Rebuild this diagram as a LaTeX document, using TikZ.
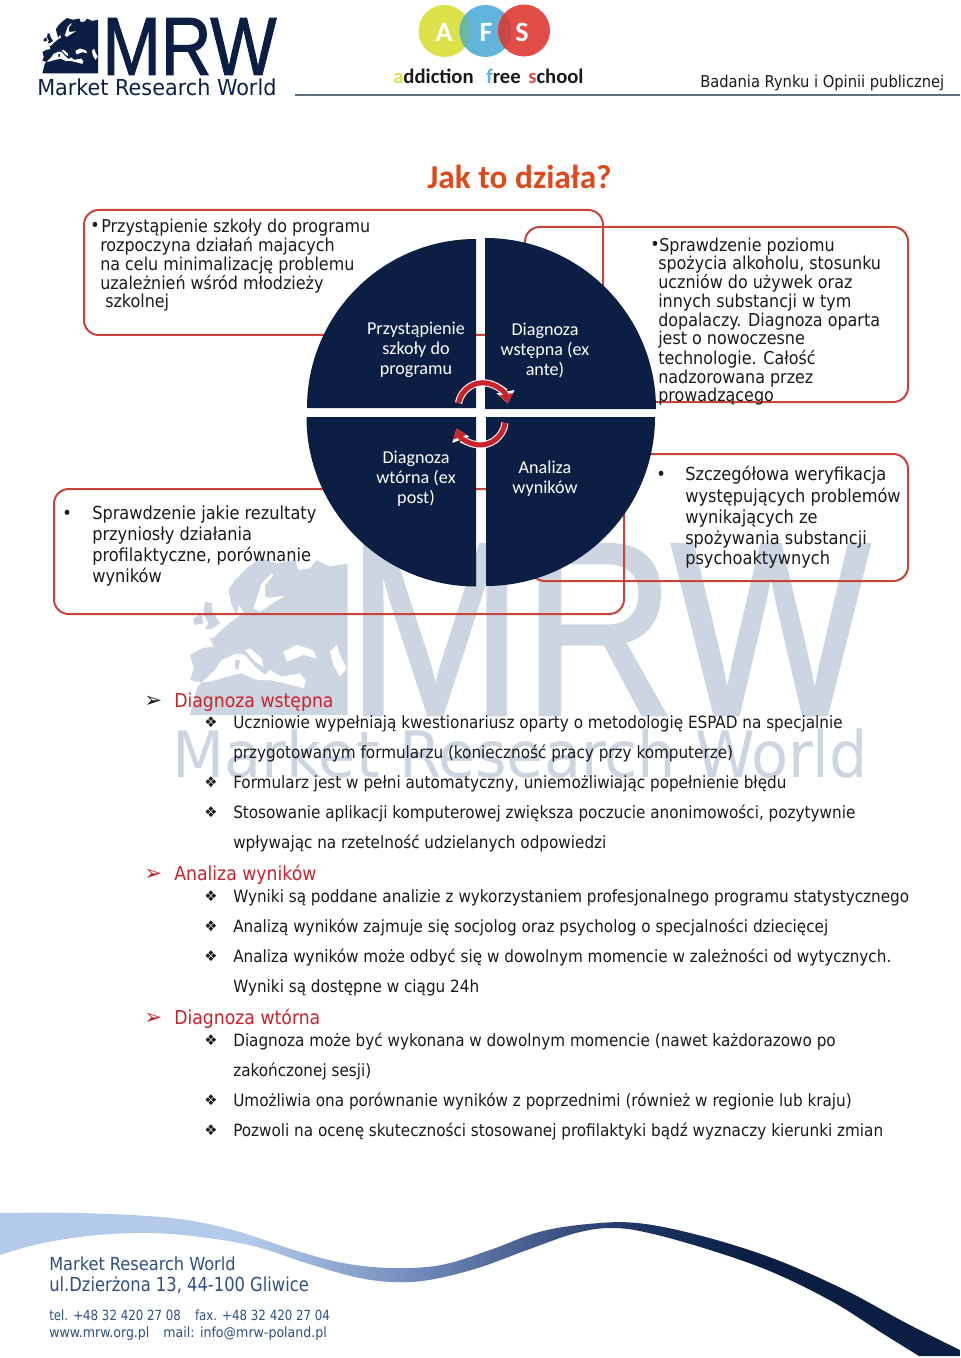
\documentclass[tikz,border=0pt]{standalone}
\usepackage{fontspec}
\setmainfont{DejaVu Sans Condensed}
\newfontfamily\labfont{Carlito}
\newfontfamily\symfont{DejaVu Sans}
\newfontfamily\logofont[FakeStretch=.85,FakeBold=1.2]{Liberation Sans}
\newfontfamily\narrowfont[FakeStretch=.94]{DejaVu Sans Condensed}
\newfontfamily\widefont[FakeStretch=1.05]{DejaVu Sans Condensed}
\usepackage{tikz}
\usetikzlibrary{arrows.meta,positioning,calc}
\definecolor{mrwNavy}{HTML}{0B1F45}
\definecolor{mrwMark}{HTML}{CDD4E2}
\definecolor{mrwBox}{HTML}{C8433A}
\definecolor{mrwRed}{HTML}{C9232B}
\definecolor{mrwInk}{HTML}{1A1A1A}
\definecolor{mrwFoot}{HTML}{2F4F80}
\definecolor{mrwRule}{HTML}{5F7080}
\definecolor{afsYellow}{HTML}{DDE24A}
\definecolor{afsBlue}{HTML}{62B4DC}
\definecolor{afsRed}{HTML}{E24E47}
\definecolor{afsTeal}{HTML}{6CB6A4}
\definecolor{afsDeep}{HTML}{C94744}
\definecolor{mrwBand}{HTML}{B3CAEA}
\definecolor{mrwMid}{HTML}{6F88B8}
\definecolor{mrwDeep}{HTML}{1F3666}
\pgfdeclarehorizontalshading{swooshfill}{100bp}{color(0bp)=(mrwBand);color(25bp)=(mrwBand);color(38bp)=(mrwBand);color(47bp)=(mrwMid);color(58bp)=(mrwDeep);color(64bp)=(mrwNavy);color(100bp)=(mrwNavy)}
% europe outline, drawn at both scales
\newcommand{\mapshape}[1]{%
  \fill[#1] (533,25) -- (480,35) -- (440,15) -- (420,40) -- (385,45) -- (375,15) -- (320,25) -- (270,10) -- (230,40) -- (195,75) -- (175,105) -- (185,150) -- (198,178) -- (208,150) -- (222,175) -- (190,195) -- (160,220) -- (130,250) -- (120,248) -- (130,275) -- (95,280) -- (60,300) -- (72,340) -- (60,375) -- (95,382) -- (80,400) -- (60,480) -- (533,480) -- cycle;
  \fill[#1] (105,140) -- (125,145) -- (128,170) -- (150,205) -- (125,222) -- (105,222) -- (115,205) -- (108,190) -- (100,175) -- cycle;
  \fill[#1] (70,190) -- (95,175) -- (100,205) -- (72,210) -- cycle;
  \fill[white] (305,55) -- (275,85) -- (262,125) -- (250,160) -- (270,170) -- (300,150) -- (345,122) -- (300,128) -- (285,125) -- (285,90) -- (310,60) -- cycle;
  \fill[white] (95,382) -- (135,345) -- (155,315) -- (200,295) -- (225,300) -- (255,335) -- (285,360) -- (300,345) -- (335,365) -- (390,355) -- (408,378) -- (400,400) -- (345,385) -- (300,375) -- (260,375) -- (215,355) -- (170,365) -- (120,380) -- cycle;
  \fill[#1] (195,315) -- (210,315) -- (205,345) -- (195,340) -- cycle;
  \fill[white] (225,285) -- (240,280) -- (275,310) -- (280,335) -- (255,320) -- cycle;
  \fill[white] (340,290) -- (380,270) -- (430,285) -- (440,310) -- (400,300) -- (350,320) -- cycle;
  \fill[white] (480,290) -- (500,270) -- (510,300) -- (530,340) -- (510,365) -- (490,330) -- cycle;
}
\begin{document}
\begin{tikzpicture}[
  x=.75pt,y=-.75pt,
  box/.style={draw=mrwBox,line width=1.5pt,rounded corners=11pt},
  quad/.style={fill=mrwNavy,draw=none},
  boxtxt/.style={anchor=base west,font=\fontsize{13.3}{16}\selectfont,color=mrwInk,inner sep=0pt},
  boxwide/.style={anchor=base west,font=\fontsize{13.5}{16}\selectfont,color=mrwInk,inner sep=0pt},
  listtxt/.style={anchor=base west,font=\fontsize{12.7}{16}\selectfont,color=mrwInk,inner sep=0pt},
  headtxt/.style={anchor=base west,font=\fontsize{14.4}{18}\selectfont,color=mrwRed,inner sep=0pt},
  tick/.style={anchor=base west,font=\symfont\fontsize{11}{14}\selectfont,color=mrwInk,inner sep=0pt},
  pointer/.style={anchor=base west,font=\symfont\fontsize{16}{18}\selectfont,color=mrwInk,inner sep=0pt},
  quadtxt/.style={font=\labfont\fontsize{13.6}{15}\selectfont,color=white,align=center},
  foottxt/.style={anchor=base west,color=mrwFoot,inner sep=0pt},
  afstxt/.style={anchor=base west,font=\labfont\bfseries\fontsize{15.5}{18}\selectfont,inner sep=0pt},
  turn/.style={line width=3.8pt,color=mrwRed,-{Triangle[length=7pt,width=10pt]}},
  turnback/.style={line width=5.4pt,color=white,-{Triangle[length=9pt,width=13pt]}}
]
  \useasboundingbox (0,0) rectangle (960,1358);
  % watermark
  \begin{scope}[shift={(170,555)},x=.25pt,y=-.25pt]
    \mapshape{mrwMark}
  \end{scope}
  \node[anchor=base west,inner sep=0pt,color=mrwMark,font=\logofont\fontsize{186}{190}\selectfont] (wmletters) at (347,715) {MRW};
  \node[anchor=base west,inner sep=0pt,color=mrwMark,font=\widefont\fontsize{48}{52}\selectfont] (wmname) at (172,777) {Market Research World};
  % logos
  \begin{scope}[shift={(35.3,16.8)},x=.0883pt,y=-.0883pt]
    \mapshape{mrwNavy}
  \end{scope}
  \node[anchor=base west,inner sep=0pt,color=mrwNavy,font=\logofont\fontsize{62}{66}\selectfont] (mrwletters) at (102,75) {MRW};
  \node[anchor=base west,inner sep=0pt,color=mrwNavy,font=\widefont\fontsize{16.5}{18}\selectfont] (mrwname) at (37,96) {Market Research World};
  \fill[afsYellow] (444.5,31) circle (26);
  \fill[afsBlue] (485.5,31) circle (26);
  \fill[afsRed] (524,30.5) circle (26);
  \begin{scope}
    \clip (444.5,31) circle (26);
    \fill[afsTeal] (485.5,31) circle (26);
  \end{scope}
  \begin{scope}
    \clip (485.5,31) circle (26);
    \fill[afsDeep] (524,30.5) circle (26);
  \end{scope}
  \node[color=white,font=\labfont\bfseries\fontsize{21}{22}\selectfont] (afsa) at (444,32) {A};
  \node[color=white,font=\labfont\bfseries\fontsize{21}{22}\selectfont] (afsf) at (486,32) {F};
  \node[color=white,font=\labfont\bfseries\fontsize{21}{22}\selectfont] (afss) at (522,32) {S};
  \node[afstxt] (afsname1) at (393,84) {\textcolor{afsYellow}{a}\textcolor{mrwInk}{ddiction}};
  \node[afstxt] (afsname2) at (486,84) {\textcolor{afsBlue}{f}\textcolor{mrwInk}{ree}};
  \node[afstxt] (afsname3) at (528,84) {\textcolor{afsRed}{s}\textcolor{mrwInk}{chool}};
  \node[anchor=base west,inner sep=0pt,color=mrwInk,font=\fontsize{12.25}{14}\selectfont] (tagline) at (700,88) {Badania Rynku i Opinii publicznej};
  \draw[mrwRule,line width=1pt] (295,95) -- (960,95);
  \node[anchor=base,inner sep=0pt,color=mrwRed!60!orange,font=\labfont\bfseries\fontsize{25}{28}\selectfont] (title) at (519.5,188.5) {Jak to działa?};
  % boxes
  \draw[box] (84,210) rectangle (603,335);
  \draw[box] (525,227) rectangle (908,402);
  \draw[box] (54,489) rectangle (624,614);
  \draw[box] (530,454) rectangle (908,581);
  % circle
  \fill[quad] (476,408) -- (307,408) arc[start angle=180,end angle=270,radius=169] -- cycle;
  \fill[quad] (485,409) -- (485,238) arc[start angle=270,end angle=360,radius=171] -- cycle;
  \fill[quad] (476,417) -- (476,586.5) arc[start angle=90,end angle=180,radius=169.5] -- cycle;
  \fill[quad] (486,417) -- (655,417) arc[start angle=0,end angle=90,radius=169] -- cycle;
  \node[quadtxt] (qa) at (416,350) {Przystąpienie\\szkoły do\\programu};
  \node[quadtxt] (qb) at (545,351) {Diagnoza\\wstępna (ex\\ante)};
  \node[quadtxt] (qc) at (416,479) {Diagnoza\\wtórna (ex\\post)};
  \node[quadtxt] (qd) at (545,479) {Analiza\\wyników};
  % turning arrows
  \draw[turnback] (458.5,403) arc[start angle=191,end angle=350,radius=25];
  \draw[turn] (458.5,403) arc[start angle=191,end angle=350,radius=25];
  \draw[turnback] (505,423) arc[start angle=7,end angle=160,radius=25];
  \draw[turn] (505,423) arc[start angle=7,end angle=160,radius=25];
  % box texts
  \node[boxtxt] (aa0) at (90,232) {•};
  \node[boxtxt] (aa1) at (101,233) {Przystąpienie szkoły do programu};
  \node[boxtxt] (aa2) at (100,252) {rozpoczyna działań majacych};
  \node[boxtxt] (aa3) at (100,271) {na celu minimalizację problemu};
  \node[boxtxt] (aa4) at (100,290) {uzależnień wśród młodzieży};
  \node[boxtxt] (aa5) at (105,308) {szkolnej};
  \node[boxtxt] (bb0) at (650,251) {•};
  \node[boxtxt] (bb1) at (659,252) {Sprawdzenie poziomu};
  \node[boxtxt] (bb2) at (658,270) {spożycia alkoholu, stosunku};
  \node[boxtxt] (bb3) at (658,289) {uczniów do używek oraz};
  \node[boxtxt] (bb4) at (658,308) {innych substancji w tym};
  \node[boxtxt] (bb5) at (658,327) {dopalaczy. Diagnoza oparta};
  \node[boxtxt] (bb6) at (658,345) {jest o nowoczesne};
  \node[boxtxt] (bb7) at (658,364) {technologie. Całość};
  \node[boxtxt] (bb8) at (658,383) {nadzorowana przez};
  \node[boxtxt] (bb9) at (658,402) {prowadzącego};
  \node[boxwide] (cc0) at (62,519) {•};
  \node[boxwide] (cc1) at (92,519) {Sprawdzenie jakie rezultaty};
  \node[boxwide] (cc2) at (92,540) {przyniosły działania};
  \node[boxwide] (cc3) at (92,561) {profilaktyczne, porównanie};
  \node[boxwide] (cc4) at (92,582) {wyników};
  \node[boxwide] (dd0) at (656,480) {•};
  \node[boxwide] (dd1) at (685,480) {Szczegółowa weryfikacja};
  \node[boxwide] (dd2) at (685,502) {występujących problemów};
  \node[boxwide] (dd3) at (685,523) {wynikających ze};
  \node[boxwide] (dd4) at (685,544) {spożywania substancji};
  \node[boxwide] (dd5) at (685,564) {psychoaktywnych};
  % list
  \node[pointer] (ha0) at (144,707) {➢};
  \node[headtxt] (ha) at (174,707) {Diagnoza wstępna};
  \node[tick] (la0) at (204,727) {❖};
  \node[listtxt] (la1) at (233,728) {Uczniowie wypełniają kwestionariusz oparty o metodologię ESPAD na specjalnie};
  \node[listtxt] (la2) at (233,758) {przygotowanym formularzu (konieczność pracy przy komputerze)};
  \node[tick] (la3) at (204,787) {❖};
  \node[listtxt] (la4) at (233,788) {Formularz jest w pełni automatyczny, uniemożliwiając popełnienie błędu};
  \node[tick] (la5) at (204,817) {❖};
  \node[listtxt] (la6) at (233,818) {Stosowanie aplikacji komputerowej zwiększa poczucie anonimowości, pozytywnie};
  \node[listtxt] (la7) at (233,848) {wpływając na rzetelność udzielanych odpowiedzi};
  \node[pointer,color=mrwRed] (hb0) at (144,880) {➢};
  \node[headtxt] (hb) at (174,880) {Analiza wyników};
  \node[tick] (lb0) at (204,901) {❖};
  \node[listtxt] (lb1) at (233,902) {Wyniki są poddane analizie z wykorzystaniem profesjonalnego programu statystycznego};
  \node[tick] (lb2) at (204,931) {❖};
  \node[listtxt] (lb3) at (233,932) {Analizą wyników zajmuje się socjolog oraz psycholog o specjalności dziecięcej};
  \node[tick] (lb4) at (204,961) {❖};
  \node[listtxt] (lb5) at (233,962) {Analiza wyników może odbyć się w dowolnym momencie w zależności od wytycznych.};
  \node[listtxt] (lb6) at (233,992) {Wyniki są dostępne w ciągu 24h};
  \node[pointer,color=mrwRed] (hc0) at (144,1024) {➢};
  \node[headtxt] (hc) at (174,1024) {Diagnoza wtórna};
  \node[tick] (lc0) at (204,1045) {❖};
  \node[listtxt] (lc1) at (233,1046) {Diagnoza może być wykonana w dowolnym momencie (nawet każdorazowo po};
  \node[listtxt] (lc2) at (233,1076) {zakończonej sesji)};
  \node[tick] (lc3) at (204,1105) {❖};
  \node[listtxt] (lc4) at (233,1106) {Umożliwia ona porównanie wyników z poprzednimi (również w regionie lub kraju)};
  \node[tick] (lc5) at (204,1135) {❖};
  \node[listtxt] (lc6) at (233,1136) {Pozwoli na ocenę skuteczności stosowanej profilaktyki bądź wyznaczy kierunki zmian};
  % footer band
  \path[shading=swooshfill] plot[smooth,tension=.6] coordinates {(0,1213) (80,1213) (171,1218) (233,1230) (294,1250) (343,1263) (392,1268) (441,1265) (490,1250) (539,1232) (588,1224) (637,1223) (698,1235) (772,1258) (845,1290) (906,1323) (960,1350)} -- (960,1356) -- plot[smooth,tension=.6] coordinates {(919,1356) (882,1333) (833,1302) (772,1272) (710,1250) (649,1233) (612,1228) (576,1233) (527,1250) (478,1268) (429,1280) (392,1282) (355,1277) (306,1263) (257,1247) (208,1238) (153,1233) (98,1235) (43,1243) (0,1255)} -- cycle;
  \node[foottxt,font=\fontsize{13.5}{16}\selectfont] (fa) at (49,1270) {Market Research World};
  \node[foottxt,font=\narrowfont\fontsize{14.5}{16}\selectfont] (fb) at (49,1291) {ul.Dzierżona 13, 44-100 Gliwice};
  \node[foottxt,font=\narrowfont\fontsize{10.5}{12}\selectfont] (fc) at (49,1320) {tel. +48 32 420 27 08\quad fax. +48 32 420 27 04};
  \node[foottxt,font=\fontsize{10.5}{12}\selectfont] (fd) at (49,1337) {www.mrw.org.pl\quad mail: info@mrw-poland.pl};
\end{tikzpicture}
\end{document}
